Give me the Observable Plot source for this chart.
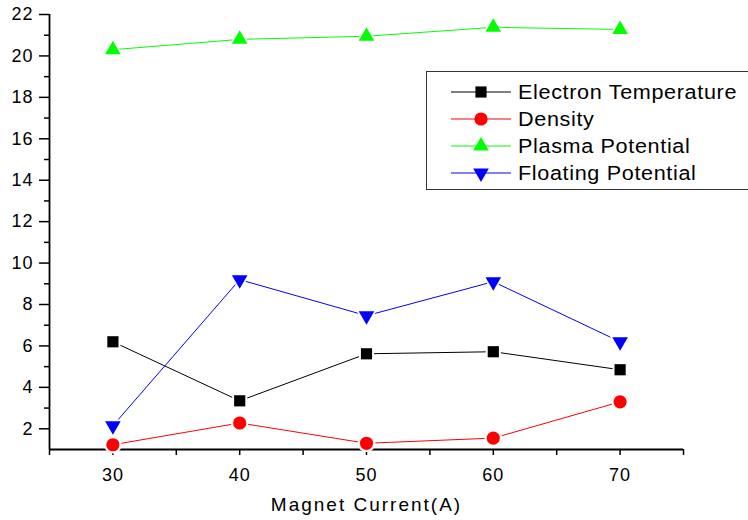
<!DOCTYPE html>
<html>
<head>
<meta charset="utf-8">
<script src="https://cdn.jsdelivr.net/npm/d3@7"></script>
<script src="https://cdn.jsdelivr.net/npm/@observablehq/plot@0.6"></script>
<style>
  html, body { margin: 0; padding: 0; background: #fff; }
  #wrap { position: relative; width: 748px; height: 520px; overflow: hidden; font-family: "Liberation Sans", Arial, sans-serif; }
  svg text { letter-spacing: 1px; }
  svg g[aria-label="text"] text { letter-spacing: 2px; }
  #legend { position: absolute; left: 426px; top: 71px; width: 340px; height: 119px; border: 1.5px solid #333; background: #fff; box-sizing: border-box; }
  .row { position: absolute; left: 0; height: 24px; display: flex; align-items: center; }
  .row svg { display: block; }
  .row span { font-size: 20px; letter-spacing: 0.6px; color: #000; margin-left: 6px; display: inline-block; transform: scaleX(1.08); transform-origin: left center; white-space: nowrap; }
</style>
</head>
<body>
<div id="wrap"></div>
<script>
// ---- data ----
const magnetCurrent = [30, 40, 50, 60, 70];
const electronTemperature = [6.2, 3.35, 5.62, 5.72, 4.85];
const density = [1.23, 2.28, 1.3, 1.55, 3.3];
const plasmaPotential = [20.3, 20.8, 20.95, 21.38, 21.28];
const floatingPotential = [2.15, 9.2, 7.46, 9.1, 6.2];
const seriesNames = ["Electron Temperature", "Density", "Plasma Potential", "Floating Potential"];
const seriesColors = ["#000000", "#ff0000", "#00ff00", "#0000ff"];
const seriesSymbols = ["square", "circle", "triangle", "triangle"];
const seriesRotate = [0, 0, 0, 180];
const majorYTicks = [2, 4, 6, 8, 10, 12, 14, 16, 18, 20, 22];
const minorYTicks = [3, 5, 7, 9, 11, 13, 15, 17, 19, 21];
const majorXTicks = [30, 40, 50, 60, 70];
const minorXTicks = [25, 35, 45, 55, 65, 75];
const xLabel = "Magnet Current(A)";

const allValues = [electronTemperature, density, plasmaPotential, floatingPotential];
const rows = [];
allValues.forEach((vals, i) => vals.forEach((v, j) => rows.push({series: seriesNames[i], idx: i, x: magnetCurrent[j], y: v})));

const sizes = [6.3, 6.6, 5.8, 5.8];

const marks = [
  Plot.axisY(majorYTicks, {tickSize: 10, tickPadding: 6, fontSize: 18, strokeWidth: 1.5, label: null, fill: "#000"}),
  Plot.axisY(minorYTicks, {tickSize: 5, tickFormat: () => "", strokeWidth: 1.5, label: null}),
  Plot.axisX(majorXTicks, {tickSize: 6, tickPadding: 13, fontSize: 18, strokeWidth: 1.5, label: null, fill: "#000"}),
  Plot.axisX(minorXTicks, {tickSize: 6, tickFormat: () => "", strokeWidth: 1.5, label: null}),
  Plot.ruleX([25], {strokeWidth: 1.8}),
  Plot.ruleY([1], {strokeWidth: 1.8})
];
seriesNames.forEach((name, i) => {
  const d = rows.filter(r => r.idx === i);
  marks.push(Plot.line(d, {x: "x", y: "y", stroke: seriesColors[i], strokeWidth: 1}));
});
seriesNames.forEach((name, i) => {
  const d = rows.filter(r => r.idx === i);
  marks.push(Plot.dot(d, {x: "x", y: "y", symbol: seriesSymbols[i], rotate: seriesRotate[i], r: sizes[i] + 2.2, fill: "white", stroke: "none"}));
  marks.push(Plot.dot(d, {x: "x", y: "y", symbol: seriesSymbols[i], rotate: seriesRotate[i], r: sizes[i], fill: seriesColors[i], stroke: "none"}));
});
marks.push(Plot.text([xLabel], {text: d => d, frameAnchor: "bottom", lineAnchor: "middle", dy: 55, fontSize: 19, fill: "#000"}));

const chart = Plot.plot({
  width: 748,
  height: 520,
  marginLeft: 49,
  marginRight: 65,
  marginTop: 14,
  marginBottom: 71,
  style: {fontFamily: "'Liberation Sans', Arial, sans-serif", background: "white", color: "#000"},
  x: {domain: [25, 75]},
  y: {domain: [1, 22]},
  marks
});
const wrap = document.getElementById("wrap");
wrap.appendChild(chart);

// legend
const legend = document.createElement("div");
legend.id = "legend";
const rowCenters = [20, 47, 74, 101];
seriesNames.forEach((name, i) => {
  const row = document.createElement("div");
  row.className = "row";
  row.style.top = (rowCenters[i] - 12) + "px";
  row.style.left = "23px";
  const sym = d3.symbol(seriesSymbols[i] === "square" ? d3.symbolSquare : seriesSymbols[i] === "circle" ? d3.symbolCircle : d3.symbolTriangle, Math.PI * sizes[i] * sizes[i])();
  row.innerHTML = `<svg width="62" height="24"><line x1="1" x2="61" y1="12" y2="12" stroke="${seriesColors[i]}" stroke-width="1"/><path d="${sym}" transform="translate(31,12) rotate(${seriesRotate[i]})" fill="${seriesColors[i]}"/></svg><span>${name}</span>`;
  legend.appendChild(row);
});
wrap.appendChild(legend);
</script>
</body>
</html>
